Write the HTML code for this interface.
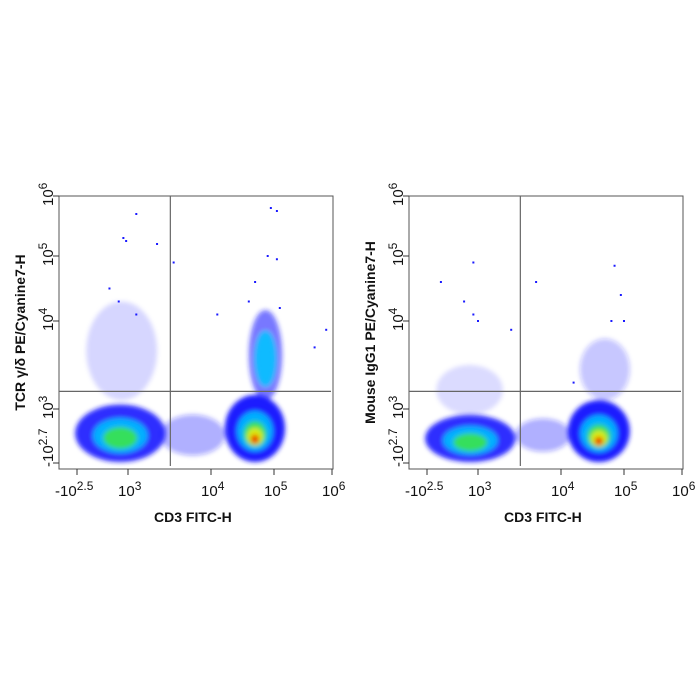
<!DOCTYPE html>
<html><head><meta charset="utf-8"><style>
html,body{margin:0;padding:0;background:#fff;width:700px;height:700px;overflow:hidden}
svg{display:block;font-family:"Liberation Sans",Arial,sans-serif}
</style></head><body>
<svg id="c" width="700" height="700" viewBox="0 0 700 700">
<defs><filter id="bl" x="-30%" y="-30%" width="160%" height="160%"><feGaussianBlur stdDeviation="2.5"/></filter></defs>
</svg>
<script>
// axis tick values (log decades; -2.5 / -2.7 denote negative ticks)
const xTickVals=[-2.5,3,4,5,6];
const xTickLabels=[["-10","2.5"],["10","3"],["10","4"],["10","5"],["10","6"]];
const yTickVals=[-2.7,3,4,5,6];
const yTickLabels=[["-10","2.7"],["10","3"],["10","4"],["10","5"],["10","6"]];
// gates
const gateX=[3.51,3.51];
const gateY=[3.2,3.2];
// clusters: [xLo,xHi,yLo,yHi,levels,opacity]
const clustersLeft=[[-2.7,3.45,-2.6,3.05,3,0.9],[4.22,5.19,-2.6,3.16,5,1],[4.6,5.14,3.1,4.17,2,0.6],[3.39,4.22,-1.9,2.4,1,0.35],[-1.5,3.35,3.1,4.3,1,0.16]];
const clustersRight=[[-2.7,3.45,-2.6,2.37,3,0.9],[4.11,5.1,-2.6,3.1,5,1],[3.45,4.15,-1.5,2.0,1,0.35],[-1.5,3.3,2.4,3.5,1,0.14],[4.3,5.1,3.1,3.8,1,0.25]];
// sparse events [x,y]
const dotsLeft=[[3.1,5.7],[2.5,5.3],[2.8,5.25],[3.35,5.2],[3.55,4.9],[1,4.5],[4.95,5.8],[5.05,5.75],[4.9,5.0],[5.05,4.95],[4.7,4.6],[5.7,3.7],[5.9,3.9],[2,4.3],[3.1,4.1],[4.1,4.1],[4.6,4.3],[5.1,4.2]];
const dotsRight=[[2.5,4.9],[-1,4.6],[3.7,4.6],[1.5,4.3],[2.5,4.1],[4.85,4.85],[4.95,4.4],[4.8,4.0],[3.4,3.9],[4.2,3.3],[5.0,4.0],[3.0,4.0]];
const levelColors=["#1a1aff","#00c8ff","#3ee83e","#f4f000","#ee1c00"];
const levelScale=[1,0.6,0.38,0.26,0.14];

const NS="http://www.w3.org/2000/svg";
const svg=document.getElementById('c');
const W=274,H=273,TOP=196;
const xPx=[18,69,152,215,273], yPx=[267,213,125,60,0];
function interp(v,vals,px){
  for(let i=0;i<vals.length-1;i++){ if(v<=vals[i+1]||i===vals.length-2){const t=(v-vals[i])/(vals[i+1]-vals[i]);return px[i]+t*(px[i+1]-px[i]);}}
}
function mk(tag,attrs,parent){const e=document.createElementNS(NS,tag);for(const k in attrs)e.setAttribute(k,attrs[k]);(parent||svg).appendChild(e);return e;}

function panel(L,clusters,dots,ytitle,name){
  const g=mk('g',{});
  
  
  const sx=v=>L+interp(v,xTickVals,xPx);
  const sy=v=>TOP+interp(v,yTickVals,yPx);
  const marks=mk('g',{filter:'url(#bl)'},g);
  
  
  clusters.forEach(c=>{
    const x0=sx(c[0]),x1=sx(c[1]),y0=sy(c[3]),y1=sy(c[2]);
    const cx=(x0+x1)/2,cy=(y0+y1)/2,rx=(x1-x0)/2,ry=(y1-y0)/2;
    for(let l=0;l<c[4];l++){
      const e=mk('ellipse',{cx:cx,cy:cy+ry*0.08*l,rx:rx*levelScale[l],ry:ry*levelScale[l],fill:levelColors[l],opacity:l===0?c[5]:0.85},marks);
      
      
    }
  });
  dots.forEach(d=>{
    const r=mk('rect',{x:sx(d[0])-1,y:sy(d[1])-1,width:2,height:2,fill:'#1a1aff'},g);
    
    
  });
  const box=mk('rect',{x:L,y:TOP,width:W,height:H,fill:'none',stroke:'#555','stroke-width':1},g);
  
  
  const gv=mk('line',{x1:sx(gateX[0]),x2:sx(gateX[1]),y1:TOP,y2:TOP+H-3,stroke:'#666','stroke-width':1.2},g);
  
  
  const gh=mk('line',{x1:L,x2:L+W-2,y1:sy(gateY[0]),y2:sy(gateY[1]),stroke:'#666','stroke-width':1.2},g);
  
  
  xTickVals.forEach((v,i)=>{
    const x=sx(v);
    mk('line',{x1:x,x2:x,y1:TOP+H,y2:TOP+H+6,stroke:'#333'},g);
    const t=mk('text',{x:x-(i===0?22:10),y:TOP+H+27,'font-size':15,fill:'#111'},g);
    
    
    t.textContent=xTickLabels[i][0];
    const s=mk('tspan',{dy:-6,'font-size':12},t);s.textContent=xTickLabels[i][1];
  });
  yTickVals.forEach((v,i)=>{
    const y=sy(v);
    mk('line',{x1:L-6,x2:L,y1:y,y2:y,stroke:'#333'},g);
    const t=mk('text',{transform:`translate(${L-6},${y+(i===0?4:10)}) rotate(-90)`,'font-size':15,fill:'#111'},g);
    
    
    t.textContent=yTickLabels[i][0];
    const s=mk('tspan',{dy:-6,'font-size':12},t);s.textContent=yTickLabels[i][1];
  });
  const xt=mk('text',{x:L+W/2-42,y:TOP+H+53,'font-size':14,'font-weight':'bold',fill:'#111'},g);
  
  
  xt.textContent='CD3 FITC-H';
  const yt=mk('text',{transform:`translate(${L-34},${TOP+H/2}) rotate(-90)`,'text-anchor':'middle','font-size':14,'font-weight':'bold',fill:'#111'},g);
  
  
  yt.textContent=ytitle;
}
panel(59,clustersLeft,dotsLeft,'TCR γ/δ PE/Cyanine7-H','left-plot');
panel(409,clustersRight,dotsRight,'Mouse IgG1 PE/Cyanine7-H','right-plot');
</script>
</body></html>
